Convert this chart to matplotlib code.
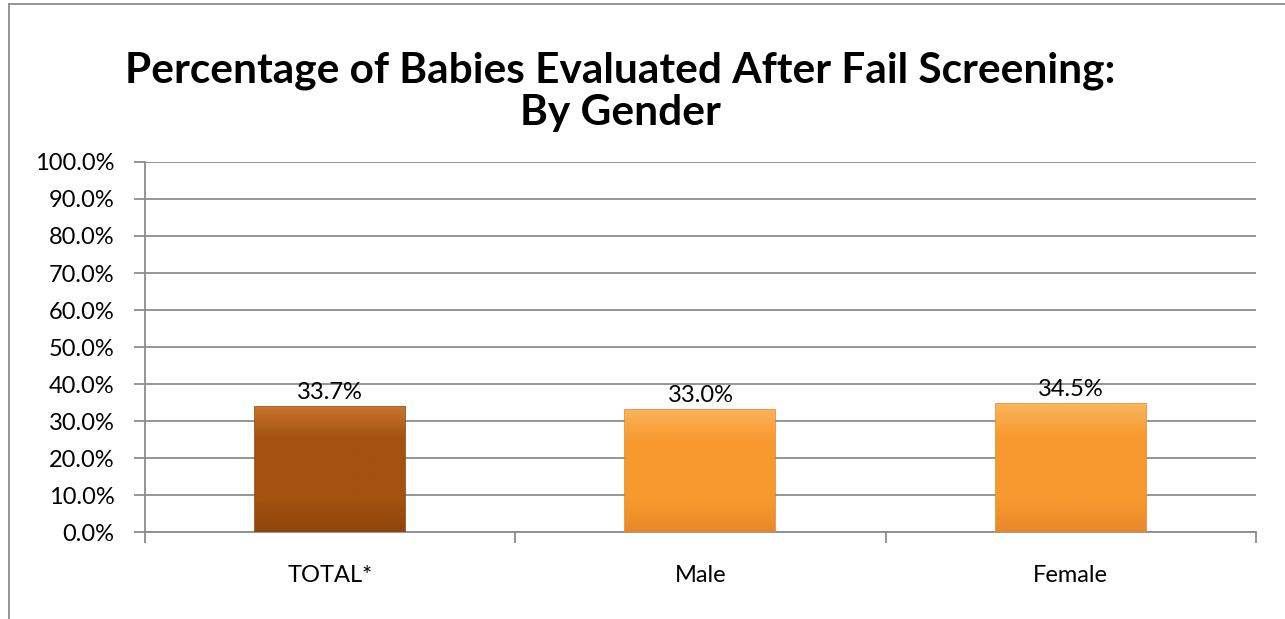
import matplotlib.pyplot as plt
import numpy as np
from matplotlib.lines import Line2D
from matplotlib.colors import LinearSegmentedColormap

plt.rcParams['font.family'] = ['Lato', 'DejaVu Sans']

categories = ['TOTAL*', 'Male', 'Female']
values = [33.7, 33.0, 34.5]
labels = ['33.7%', '33.0%', '34.5%']
bar_colors = ['#A3520F', '#F7992E', '#F7992E']
top_colors = ['#C8732E', '#FAB45A', '#FAB45A']
bottom_colors = ['#8E450B', '#E9882A', '#E9882A']
yticks = np.arange(0, 101, 10)

fig = plt.figure(figsize=(12.85, 6.19), dpi=100)
ax = fig.add_axes([0.1128, 0.1405, 0.8646, 0.5978])

x = np.arange(len(categories))
bars = ax.bar(x, values, width=0.405, color=bar_colors, edgecolor=bottom_colors,
              linewidth=1.2, zorder=3)

# gradient fill, clipped to each bar
for b, c0, c1, c2 in zip(bars, top_colors, bar_colors, bottom_colors):
    cmap = LinearSegmentedColormap.from_list('g', [c2, c1, c1, c1, c0])
    bx, by = b.get_x(), b.get_y()
    w, h = b.get_width(), b.get_height()
    grad = np.linspace(0, 1, 100).reshape(-1, 1)
    im = ax.imshow(grad, cmap=cmap, origin='lower', aspect='auto',
                   extent=[bx, bx + w, by, by + h], zorder=3.5)
    im.set_clip_path(b)

for xi, v, lab in zip(x, values, labels):
    ax.annotate(lab, (xi, v), xytext=(0, 3), textcoords='offset points',
                ha='center', va='bottom', fontsize=17, color='#000000')

ax.set_xlim(-0.5, 2.5)
ax.set_ylim(0, 100)
ax.set_yticks(yticks)
ax.set_yticklabels([f'{t:.1f}%' for t in yticks], fontsize=17)
ax.yaxis.grid(True, color='#8c8c8c', lw=1.3, zorder=0)
ax.set_axisbelow(True)

ax.set_xticks([-0.5, 0.5, 1.5, 2.5])
ax.set_xticklabels([])
ax.set_xticks(x, minor=True)
ax.set_xticklabels(categories, minor=True, fontsize=17)
ax.tick_params(axis='x', which='minor', length=0, pad=24)
ax.tick_params(axis='x', which='major', length=8, width=1.3, color='#8c8c8c')
ax.tick_params(axis='y', length=8, width=1.3, color='#8c8c8c', pad=14)

for s in ['top', 'right']:
    ax.spines[s].set_visible(False)
for s in ['left', 'bottom']:
    ax.spines[s].set_color('#8c8c8c')
    ax.spines[s].set_linewidth(1.3)

fig.text(0.483, 0.852, 'Percentage of Babies Evaluated After Fail Screening:\nBy Gender',
         ha='center', va='center', fontsize=30.5, fontweight='bold', linespacing=1.15)

# chart border (cut off on the right and bottom)
bx0 = 9 / 1285
by0 = 1 - 4 / 619
fig.add_artist(Line2D([bx0, bx0], [0, by0], color='#8c8c8c', lw=1.3))
fig.add_artist(Line2D([bx0, 1], [by0, by0], color='#8c8c8c', lw=1.3))

fig.savefig('out.png', dpi=100)
